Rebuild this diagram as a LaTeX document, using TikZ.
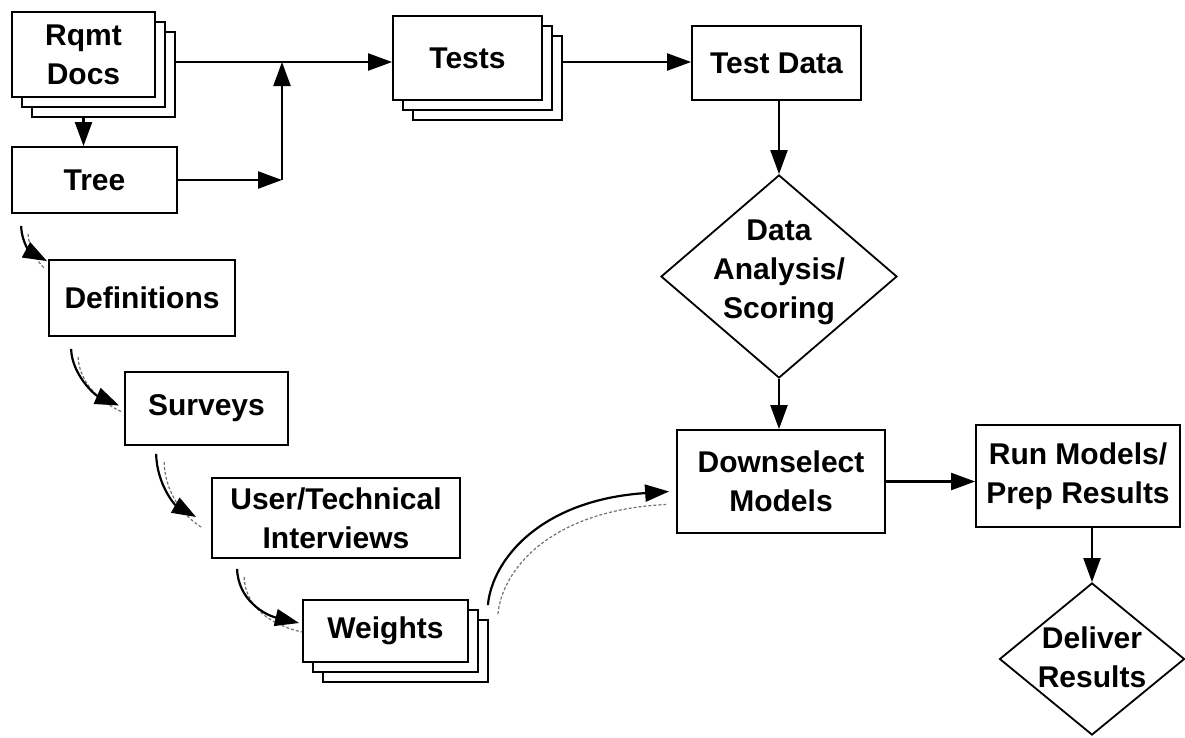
\documentclass[tikz,border=0pt]{standalone}
\usepackage{fontspec}
\setmainfont{Liberation Sans}
\usetikzlibrary{arrows.meta,shapes.geometric,calc}
\begin{document}
\begin{tikzpicture}[x=1pt,y=-1pt,
  every node/.style={font=\bfseries\fontsize{30}{39}\selectfont},
  box/.style={draw,line width=1.8pt,fill=white,inner sep=0pt,align=center},
  dia/.style={draw,line width=1.8pt,diamond,inner sep=0pt},
  lbl/.style={align=center,inner sep=0pt},
  arr/.style={line width=2.2pt,-{Triangle[length=24pt,width=17pt]}},
  shadowline/.style={black!55,line width=1.2pt,dash pattern=on 3pt off 2pt}]
\useasboundingbox (0,0) rectangle (1185,737);

% Rqmt Docs stack
\node[box,minimum width=143,minimum height=85] (rqmt3) at (103.5,74.5) {};
\node[box,minimum width=143,minimum height=85] (rqmt2) at (93.5,64.5) {};
\node[box,minimum width=143,minimum height=85] (rqmt) at (83.5,54.5) {Rqmt\\Docs};

\node[box,minimum width=165,minimum height=66] (tree) at (94.5,180) {Tree};
\node[box,minimum width=186,minimum height=76] (definitions) at (142,298) {Definitions};
\node[box,minimum width=163,minimum height=73] (surveys) at (206.5,408.5) {Surveys};
\node[box,minimum width=248,minimum height=80] (interviews) at (336,518) {User/Technical\\Interviews};

% Weights stack
\node[box,minimum width=165,minimum height=62] (weights3) at (405.5,651) {};
\node[box,minimum width=165,minimum height=62] (weights2) at (395.5,641) {};
\node[box,minimum width=165,minimum height=62] (weights) at (385.5,631) {Weights};

% Tests stack
\node[box,minimum width=149,minimum height=84] (tests3) at (487.5,78) {};
\node[box,minimum width=149,minimum height=84] (tests2) at (477.5,68) {};
\node[box,minimum width=149,minimum height=84] (tests) at (467.5,58) {Tests};

\node[box,minimum width=169,minimum height=74] (testdata) at (776.5,63) {Test Data};

\node[dia,minimum width=236,minimum height=203] (da) at (779,276.5) {};
\node[lbl] (dalbl) at (779,272) {Data\\Analysis/\\Scoring};

\node[box,minimum width=208,minimum height=103] (down) at (781,481.5) {Downselect\\Models};
\node[box,minimum width=204,minimum height=102] (run) at (1078,476) {Run Models/\\Prep Results};

\node[dia,minimum width=185,minimum height=152] (deliver) at (1092,659) {};
\node[lbl] (dellbl) at (1092,657) {Deliver\\Results};

% straight connectors
\coordinate (j) at (282,62);
\draw[arr] ([xshift=-11pt]tree.north |- rqmt3.south) -- ([xshift=-11pt]tree.north);
\draw[arr] (rqmt3.east |- j) -- (tests.west |- j);
\draw[arr] (tree.east) -- (j |- tree.east);
\draw[arr] (j |- tree.east) -- (j);
\draw[arr] (tests3.east |- j) -- (testdata.west |- j);
\draw[arr] (da.north |- testdata.south) -- (da.north);
\draw[arr] (da.south) -- (da.south |- down.north);
\draw[arr] (down.east) -- (run.west |- down.east);
\draw[arr] (deliver.north |- run.south) -- (deliver.north);

% curved connectors (left chain)
\coordinate (c1s) at ($(tree.south west)+(10,12)$);
\coordinate (c1e) at ($(definitions.north west)+(-1,2)$);
\coordinate (c2s) at ($(definitions.south west)+(23,12)$);
\coordinate (c2e) at ($(surveys.west)+(-5,-3)$);
\coordinate (c3s) at ($(surveys.south west)+(32,8)$);
\coordinate (c3e) at ($(interviews.west)+(-15,-1)$);
\coordinate (c4s) at ($(interviews.south west)+(26,10)$);
\coordinate (c4e) at ($(weights.west)+(-3,-8)$);
\coordinate (c5s) at ($(weights3.north east)+(-1,-14)$);
\coordinate (c5e) at ($(down.west)+(-7,10)$);

\draw[shadowline] ([shift={(7,8)}]c1s) .. controls (29,250) and (38,262) .. ([shift={(-2,8)}]c1e);
\draw[shadowline] ([shift={(7,8)}]c2s) .. controls (79,382) and (100,402) .. ([shift={(2,6)}]c2e);
\draw[shadowline] ([shift={(8,8)}]c3s) .. controls (165,492) and (182,515) .. ([shift={(5,10)}]c3e);
\draw[shadowline] ([shift={(7,8)}]c4s) .. controls (245,606) and (270,625) .. ([shift={(3,9)}]c4e);
\draw[shadowline] ([shift={(10,9)}]c5s) .. controls (502,570) and (550,510) .. ([shift={(-3,13)}]c5e);

\draw[arr] (c1s) .. controls (22,245) and (32,253) .. (c1e);
\draw[arr] (c2s) .. controls (72,375) and (95,395) .. (c2e);
\draw[arr] (c3s) .. controls (157,485) and (175,505) .. (c3e);
\draw[arr] (c4s) .. controls (238,600) and (265,615) .. (c4e);
\draw[arr] (c5s) .. controls (492,560) and (540,500) .. (c5e);
\end{tikzpicture}
\end{document}
